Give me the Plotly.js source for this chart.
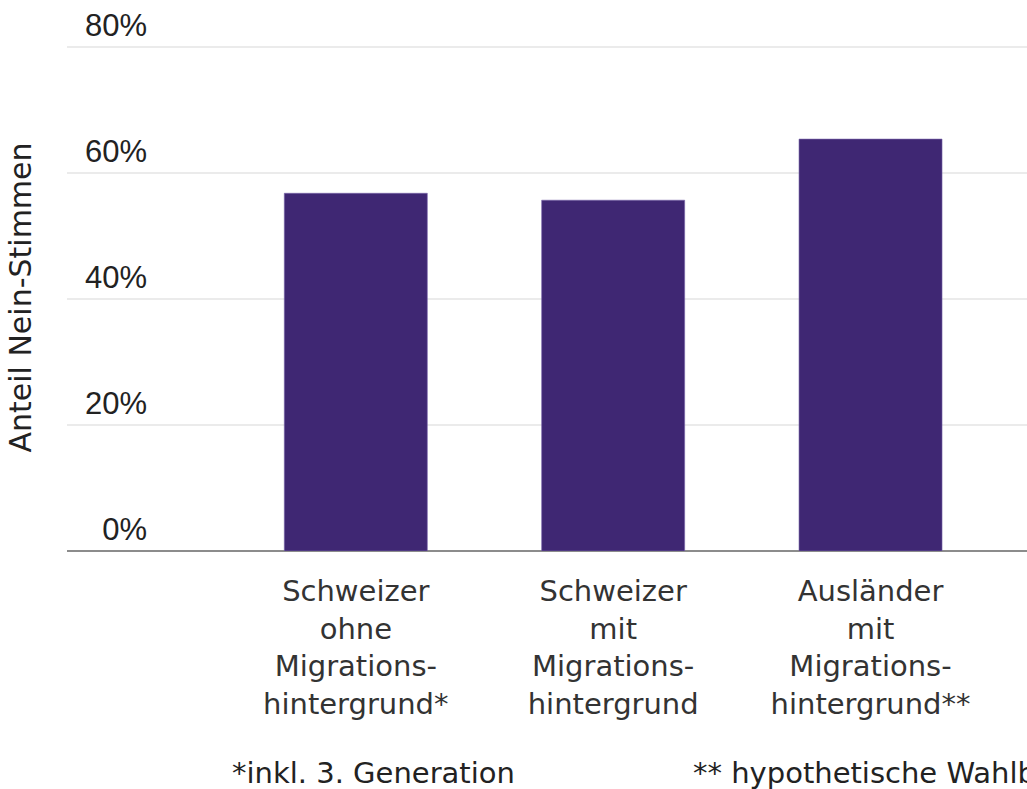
<!DOCTYPE html>
<html>
<head>
<meta charset="utf-8">
<script src="https://cdn.plot.ly/plotly-3.0.1.min.js"></script>
<style>html,body{margin:0;padding:0;background:#fff;}#chart{width:1027px;height:789px;}</style>
</head>
<body>
<div id="chart"></div>
<script>
var categories = [
  "Schweizer<br>ohne<br>Migrations-<br>hintergrund*",
  "Schweizer<br>mit<br>Migrations-<br>hintergrund",
  "Ausländer<br>mit<br>Migrations-<br>hintergrund**"
];
var neinShare = [56.8, 55.7, 65.4];
var yTickVals = [0, 20, 40, 60, 80];
var yTickText = ["0%", "20%", "40%", "60%", "80%"];
var footnotes = ["*inkl. 3. Generation", "** hypothetische Wahlbeteiligung"];

var trace = {
  type: 'bar',
  x: categories,
  y: neinShare,
  width: 0.5557,
  marker: {color: '#3f2773', line: {color: 'rgba(120,100,170,0.6)', width: 1}},
  hoverinfo: 'none'
};

var layout = {
  width: 1027,
  height: 789,
  margin: {l: 67, r: 0, t: 44, b: 238, pad: 0},
  paper_bgcolor: '#ffffff',
  plot_bgcolor: '#ffffff',
  showlegend: false,
  xaxis: {
    type: 'category',
    range: [-1.1222, 2.608],
    showgrid: false,
    showline: false,
    zeroline: false,
    ticks: '',
    tickfont: {family: 'DejaVu Sans', size: 29, color: '#333333'},
    ticklabelstandoff: 20,
    automargin: false,
    fixedrange: true
  },
  yaxis: {
    range: [0, 80.5],
    tickvals: yTickVals,
    ticktext: yTickText,
    anchor: 'free',
    position: 0.0835,
    ticks: '',
    ticklabelposition: 'outside top',
    tickfont: {family: 'Liberation Sans', size: 31, color: '#222222'},
    showgrid: true,
    gridcolor: '#ebebeb',
    gridwidth: 1.5,
    zeroline: true,
    zerolinecolor: '#8c8c8c',
    zerolinewidth: 1.5,
    showline: false,
    automargin: false,
    title: {text: 'Anteil Nein-Stimmen', font: {family: 'DejaVu Sans', size: 30, color: '#222222'}, standoff: 43},
    fixedrange: true
  },
  annotations: [
    {xref: 'paper', yref: 'paper', x: 0.1698, y: -0.438, xanchor: 'left', yanchor: 'middle', text: footnotes[0], showarrow: false, font: {family: 'DejaVu Sans', size: 29, color: '#222222'}},
    {xref: 'paper', yref: 'paper', x: 0.650, y: -0.438, xanchor: 'left', yanchor: 'middle', text: footnotes[1], showarrow: false, font: {family: 'DejaVu Sans', size: 29, color: '#222222'}}
  ]
};

Plotly.newPlot('chart', [trace], layout, {displayModeBar: false, staticPlot: true});
</script>
</body>
</html>
